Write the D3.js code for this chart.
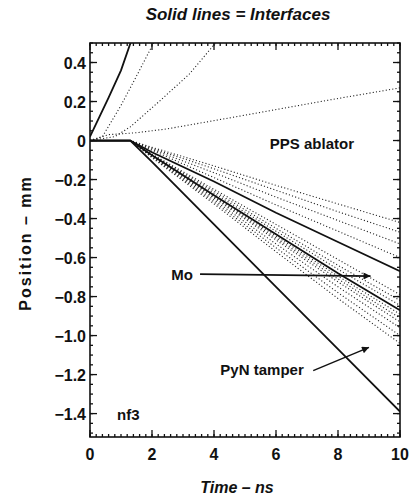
<!DOCTYPE html>
<html>
<head>
<meta charset="utf-8">
<script src="https://cdn.jsdelivr.net/npm/d3@7"></script>
<style>
  body { margin: 0; background: #fff; }
  text { font-family: "Liberation Sans", Arial, sans-serif; font-weight: bold; fill: #111; }
</style>
</head>
<body>
<div id="chart"></div>
<script>
const width = 409;
const height = 495;
const margin = { top: 43, left: 90, right: 9, bottom: 58 };

// time grid shared by the downward trajectories (ns)
const times = [0, 1.3, 2, 4, 6, 8, 10];

// solid lines = interfaces
const ablationT = [0, 0.3, 0.6, 1.0, 1.35];
const ablationY = [0.02, 0.12, 0.22, 0.36, 0.52];
const interfaceA = [0, 0, -0.06, -0.21, -0.37, -0.52, -0.67];
const interfaceB = [0, 0, -0.075, -0.28, -0.48, -0.68, -0.87];
const interfaceC = [0, 0, -0.11, -0.43, -0.75, -1.07, -1.39];

// dotted lines = zone boundaries, blowing off the ablator
const upT1 = [0, 0.4, 1.0, 1.5, 2.05];
const upY1 = [0, 0.02, 0.18, 0.33, 0.5];
const upT2 = [0, 0.8, 1.3, 2.3, 3.2, 4.05];
const upY2 = [0, 0.02, 0.07, 0.21, 0.34, 0.5];
const upT3 = [0, 0.6, 1.5, 2.5, 5, 7.8, 10];
const upY3 = [0, 0.03, 0.04, 0.06, 0.13, 0.21, 0.27];

// dotted lines in the PPS ablator, above interface A
const ablatorZones = [
  [0, 0, -0.035, -0.13, -0.23, -0.325, -0.42],
  [0, 0, -0.04, -0.145, -0.255, -0.365, -0.47],
  [0, 0, -0.045, -0.165, -0.29, -0.41, -0.53],
  [0, 0, -0.05, -0.19, -0.33, -0.465, -0.60]
];
// densely packed Mo zones
const moZones = [
  [0, 0, -0.07, -0.25, -0.43, -0.61, -0.79],
  [0, 0, -0.072, -0.26, -0.45, -0.64, -0.82],
  [0, 0, -0.074, -0.27, -0.465, -0.66, -0.845],
  [0, 0, -0.076, -0.285, -0.49, -0.695, -0.89],
  [0, 0, -0.078, -0.29, -0.5, -0.71, -0.91],
  [0, 0, -0.08, -0.295, -0.51, -0.725, -0.93]
];
// PyN tamper zones below interface B
const tamperZones = [
  [0, 0, -0.082, -0.305, -0.53, -0.75, -0.96],
  [0, 0, -0.085, -0.315, -0.55, -0.78, -1.0],
  [0, 0, -0.088, -0.325, -0.57, -0.81, -1.04]
];

const xTicks = [0, 2, 4, 6, 8, 10];
const yTicks = [0.4, 0.2, 0, -0.2, -0.4, -0.6, -0.8, -1.0, -1.2, -1.4];

const svg = d3.select("#chart").append("svg")
  .attr("width", width)
  .attr("height", height);

const x = d3.scaleLinear().domain([0, 10]).range([margin.left, width - margin.right]);
const y = d3.scaleLinear().domain([-1.52, 0.5]).range([height - margin.bottom, margin.top]);
const x0 = x(0), x1 = x(10), yTop = y(0.5), yBot = y(-1.52);

svg.append("clipPath").attr("id", "plotclip")
  .append("rect")
  .attr("x", x0).attr("y", yTop)
  .attr("width", x1 - x0).attr("height", yBot - yTop);

const line = d3.line().x(d => x(d[0])).y(d => y(d[1]));
const zip = (ts, vs) => ts.map((t, i) => [t, vs[i]]);

const plot = svg.append("g").attr("clip-path", "url(#plotclip)");

// dotted lines
const dotted = [zip(upT1, upY1), zip(upT2, upY2), zip(upT3, upY3)]
  .concat(ablatorZones.map(v => zip(times, v)))
  .concat(moZones.map(v => zip(times, v)))
  .concat(tamperZones.map(v => zip(times, v)));

plot.selectAll(".zone")
  .data(dotted)
  .enter()
  .append("path")
  .attr("class", "zone")
  .attr("d", line)
  .attr("fill", "none")
  .attr("stroke", "#222")
  .attr("stroke-width", 1.1)
  .attr("stroke-dasharray", "1.1,2.2");

// solid lines
const solid = [zip(ablationT, ablationY), zip(times, interfaceA), zip(times, interfaceB), zip(times, interfaceC)];
plot.selectAll(".iface")
  .data(solid)
  .enter()
  .append("path")
  .attr("class", "iface")
  .attr("d", line)
  .attr("fill", "none")
  .attr("stroke", "#111")
  .attr("stroke-width", 1.8);

// frame
svg.append("rect")
  .attr("x", x0).attr("y", yTop)
  .attr("width", x1 - x0).attr("height", yBot - yTop)
  .attr("fill", "none").attr("stroke", "#111").attr("stroke-width", 1.6);

// ticks, inward on all four sides
const xMinor = d3.range(0, 10.01, 0.2);
const yMinor = d3.range(-1.5, 0.501, 0.05);
const tickG = svg.append("g").attr("stroke", "#111").attr("stroke-width", 1.3);
function xTickMarks(vals, len) {
  tickG.selectAll(null).data(vals).enter().append("line")
    .attr("x1", d => x(d)).attr("x2", d => x(d))
    .attr("y1", yBot).attr("y2", yBot - len);
  tickG.selectAll(null).data(vals).enter().append("line")
    .attr("x1", d => x(d)).attr("x2", d => x(d))
    .attr("y1", yTop).attr("y2", yTop + len);
}
function yTickMarks(vals, len) {
  tickG.selectAll(null).data(vals).enter().append("line")
    .attr("y1", d => y(d)).attr("y2", d => y(d))
    .attr("x1", x0).attr("x2", x0 + len);
  tickG.selectAll(null).data(vals).enter().append("line")
    .attr("y1", d => y(d)).attr("y2", d => y(d))
    .attr("x1", x1).attr("x2", x1 - len);
}
xTickMarks(xMinor, 3);
xTickMarks(xTicks, 7);
yTickMarks(yMinor, 3);
yTickMarks(yTicks, 7);

// tick labels
svg.selectAll(".xlab")
  .data(xTicks)
  .enter()
  .append("text")
  .attr("x", d => x(d))
  .attr("y", yBot + 23)
  .attr("text-anchor", "middle")
  .attr("font-size", 16)
  .text(d => d);

const yFmt = d => d === 0 ? "0" : d3.format(".1f")(d).replace("-", "\u2013");
svg.selectAll(".ylab")
  .data(yTicks)
  .enter()
  .append("text")
  .attr("x", x0 - 4)
  .attr("y", d => y(d) + 6)
  .attr("text-anchor", "end")
  .attr("font-size", 16)
  .text(yFmt);

// titles
svg.append("text")
  .attr("x", 238).attr("y", 20)
  .attr("text-anchor", "middle").attr("font-size", 17)
  .attr("font-style", "italic")
  .text("Solid lines = Interfaces");
svg.append("text")
  .attr("x", 237).attr("y", 493)
  .attr("text-anchor", "middle").attr("font-size", 16)
  .attr("font-style", "italic")
  .text("Time \u2013 ns");
svg.append("text")
  .attr("transform", "translate(31,243) rotate(-90)")
  .attr("text-anchor", "middle").attr("font-size", 16)
  .attr("letter-spacing", 2)
  .text("Position \u2013 mm");

// annotations
svg.append("defs").append("marker")
  .attr("id", "arrow")
  .attr("viewBox", "0 0 10 10")
  .attr("refX", 10).attr("refY", 5)
  .attr("markerWidth", 11).attr("markerHeight", 7)
  .attr("markerUnits", "userSpaceOnUse")
  .attr("orient", "auto")
  .append("path").attr("d", "M0,0 L10,5 L0,10 Z").attr("fill", "#111");

svg.append("text")
  .attr("x", x(7.16)).attr("y", y(-0.045))
  .attr("text-anchor", "middle").attr("font-size", 15)
  .text("PPS ablator");

svg.append("text")
  .attr("x", x(3.32)).attr("y", y(-0.69) + 5)
  .attr("text-anchor", "end").attr("font-size", 15)
  .text("Mo");
svg.append("line")
  .attr("x1", x(3.55)).attr("y1", y(-0.685))
  .attr("x2", x(9.05)).attr("y2", y(-0.695))
  .attr("stroke", "#111").attr("stroke-width", 1.6)
  .attr("marker-end", "url(#arrow)");

svg.append("text")
  .attr("x", x(5.55)).attr("y", y(-1.2))
  .attr("text-anchor", "middle").attr("font-size", 15)
  .text("PyN tamper");
svg.append("line")
  .attr("x1", x(7.2)).attr("y1", y(-1.18))
  .attr("x2", x(9.0)).attr("y2", y(-1.06))
  .attr("stroke", "#111").attr("stroke-width", 1.4)
  .attr("marker-end", "url(#arrow)");

svg.append("text")
  .attr("x", x(0.87)).attr("y", y(-1.435))
  .attr("font-size", 15)
  .text("nf3");
</script>
</body>
</html>
